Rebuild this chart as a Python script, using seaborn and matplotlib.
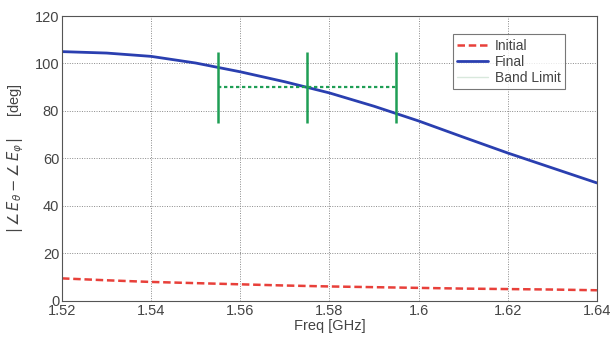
import matplotlib
matplotlib.use("Agg")
import matplotlib.pyplot as plt
import seaborn as sns
import numpy as np
import pandas as pd

freq = [1.52, 1.53, 1.54, 1.55, 1.56, 1.57, 1.58, 1.59, 1.60, 1.61, 1.62, 1.63, 1.64]
final = [105.0, 104.4, 103.0, 100.2, 96.5, 92.3, 87.6, 82.0, 75.8, 69.0, 62.3, 56.0, 49.7]
initial = [9.5, 8.7, 8.0, 7.5, 7.0, 6.5, 6.1, 5.8, 5.5, 5.2, 5.0, 4.8, 4.5]
band_x = [1.555, 1.575, 1.595]
band_lo, band_hi, band_mid = 75, 105, 90

xticks = [1.52, 1.54, 1.56, 1.58, 1.6, 1.62, 1.64]
xticklabels = ["1.52", "1.54", "1.56", "1.58", "1.6", "1.62", "1.64"]
yticks = [0, 20, 40, 60, 80, 100, 120]

sns.set_style("white")
plt.rcParams['font.family'] = ['Liberation Sans', 'DejaVu Sans']

fig = plt.figure(figsize=(6.1, 3.37), dpi=100)
ax = fig.add_axes([0.1016, 0.107, 0.877, 0.8455])

df = pd.DataFrame({"freq": freq, "Initial": initial, "Final": final})
sns.lineplot(data=df, x="freq", y="Initial", ax=ax, color="#e8403a", lw=1.8,
             linestyle=(0, (3, 1.5)), label="Initial")
sns.lineplot(data=df, x="freq", y="Final", ax=ax, color="#2a3fb0", lw=2.0, label="Final")

green = "#1f9e55"
ax.vlines(band_x, band_lo, band_hi, color=green, lw=1.8)
ax.hlines(band_mid, band_x[0], band_x[-1], color=green, lw=1.6, linestyles=(0, (1.5, 1.2)))
ax.plot([], [], color="#d8e8dc", lw=1.0, label="Band Limit")

ax.set_xlim(1.52, 1.64)
ax.set_ylim(0, 120)
ax.set_xticks(xticks)
ax.set_xticklabels(xticklabels)
ax.set_yticks(yticks)
ax.grid(True, color="#8a8a8a", linestyle=(0, (1, 1.5)), lw=0.7)
ax.tick_params(direction="in", length=3, labelsize=10.5, colors="#444444", pad=2)
for s in ax.spines.values():
    s.set_color("#555555")
    s.set_linewidth(0.8)

ax.set_xlabel("Freq [GHz]", fontsize=10.5, labelpad=1, color="#444444")
ax.set_ylabel(r"$|\,\angle\, E_\theta - \angle\, E_\varphi\,|$     [deg]", fontsize=10.5, color="#444444", labelpad=6)

leg = ax.legend(loc="upper right", bbox_to_anchor=(0.953, 0.96), frameon=True, fancybox=False,
                fontsize=10, handlelength=2.2, borderpad=0.3, labelspacing=0.15, handletextpad=0.5)
leg.get_frame().set_edgecolor("#555555")
leg.get_frame().set_linewidth(0.8)
for t in leg.get_texts():
    t.set_color("#444444")

fig.savefig("out.png", dpi=100)
